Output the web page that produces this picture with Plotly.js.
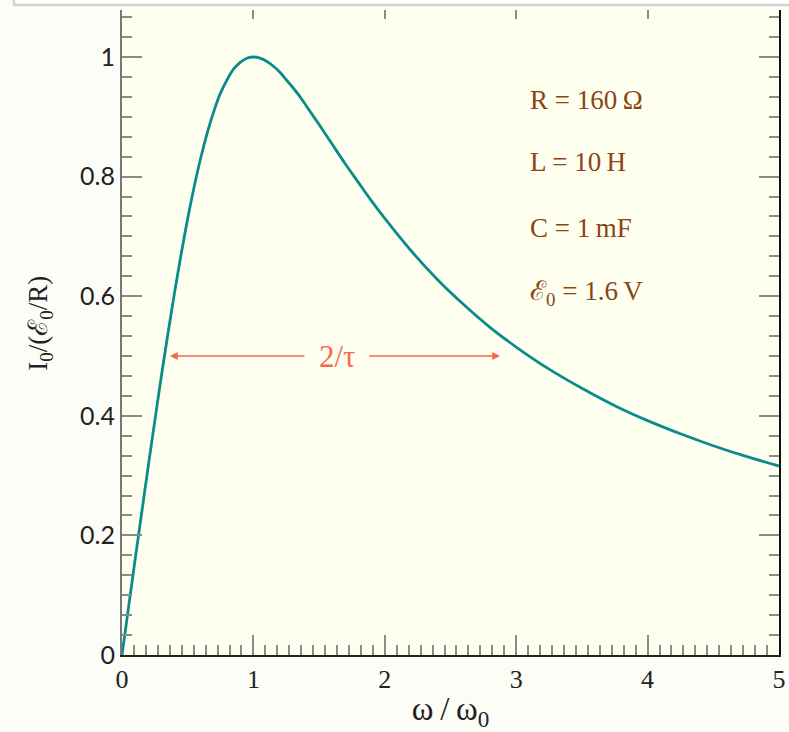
<!DOCTYPE html>
<html>
<head>
<meta charset="utf-8">
<script src="https://cdn.plot.ly/plotly-3.0.1.min.js"></script>
<style>
html,body{margin:0;padding:0;background:#fdfdf7;}
#chart{width:789px;height:732px;}
</style>
</head>
<body>
<div id="chart"></div>
<script>
// Frequency ratio omega/omega0 and normalised current amplitude
var omegaRatio = [0, 0.02, 0.05, 0.1, 0.15, 0.2, 0.25, 0.3, 0.35, 0.4, 0.45, 0.5, 0.55, 0.6, 0.65,
                  0.7, 0.75, 0.8, 0.85, 0.9, 0.95, 1.0, 1.05, 1.1, 1.15, 1.2, 1.25, 1.3, 1.35, 1.4,
                  1.5, 1.6, 1.7, 1.8, 1.9, 2.0, 2.2, 2.4, 2.6, 2.8, 3.0, 3.25, 3.5, 3.75,
                  4.0, 4.25, 4.5, 4.75, 5.0];
var currentRatio = [0, 0.032, 0.080, 0.160, 0.238, 0.316, 0.392, 0.467, 0.538, 0.606, 0.670, 0.730,
                    0.784, 0.832, 0.874, 0.910, 0.940, 0.962, 0.980, 0.991, 0.998, 1.000, 0.998,
                    0.993, 0.985, 0.975, 0.962, 0.949, 0.935, 0.919, 0.887, 0.854, 0.821, 0.790,
                    0.759, 0.730, 0.676, 0.628, 0.586, 0.548, 0.515, 0.478, 0.446, 0.417,
                    0.392, 0.370, 0.350, 0.332, 0.316];

// Width arrow labelled 2/tau
var arrowY = 0.5;
var arrowLeftEnd = 0.365, arrowLeftTail = 1.40;
var arrowRightEnd = 2.877, arrowRightTail = 1.87;
var arrowLabelX = 1.64;
var arrowLabel = "2/τ";

// Circuit parameters text
var paramLabels = ["R = 160\u2009Ω", "L = 10\u2009H", "C = 1\u2009mF", "ℰ<sub>0</sub> = 1.6\u2009V"];
var paramY = [0.928, 0.824, 0.714, 0.605];
var paramX = 3.09;

var xTicks = [0, 1, 2, 3, 4, 5];
var yTicks = [0, 0.2, 0.4, 0.6, 0.8, 1];
var xTitle = "ω\u2009/\u2009ω<sub>0</sub>";
var yTitle = "I<sub>0</sub>/(ℰ<sub>0</sub>/R)";

var serif = "Liberation Serif, DejaVu Serif, serif";
var brown = "#8b4513";
var arrowColor = "#f5694f";

var traces = [
  {x: omegaRatio, y: currentRatio, mode: "lines", type: "scatter",
   line: {color: "#0a8c8c", width: 2.8, shape: "spline", smoothing: 0.8},
   hoverinfo: "skip", showlegend: false},
  {x: [], y: [], xaxis: "x2", yaxis: "y2", type: "scatter", mode: "lines", showlegend: false}
];

var annotations = [];
paramLabels.forEach(function(t, i){
  annotations.push({x: paramX, y: paramY[i], xref: "x", yref: "y", text: t, showarrow: false,
    xanchor: "left", yanchor: "middle", font: {family: serif, size: 27, color: brown}});
});
annotations.push({x: arrowLeftEnd, y: arrowY, ax: arrowLeftTail, ay: arrowY, axref: "x", ayref: "y",
  xref: "x", yref: "y", text: "", showarrow: true, arrowhead: 2, arrowsize: 1.2, arrowwidth: 1.3, arrowcolor: arrowColor});
annotations.push({x: arrowRightEnd, y: arrowY, ax: arrowRightTail, ay: arrowY, axref: "x", ayref: "y",
  xref: "x", yref: "y", text: "", showarrow: true, arrowhead: 2, arrowsize: 1.2, arrowwidth: 1.3, arrowcolor: arrowColor});
annotations.push({x: arrowLabelX, y: arrowY, xref: "x", yref: "y", text: arrowLabel, showarrow: false,
  xanchor: "center", yanchor: "middle", font: {family: serif, size: 31, color: arrowColor}});
// y-axis title (placed as rotated annotation to match reference position)
annotations.push({x: -0.125, y: 0.515, xref: "paper", yref: "paper", text: yTitle, showarrow: false,
  textangle: -90, xanchor: "center", yanchor: "middle", font: {family: serif, size: 27, color: "#222"}});

var layout = {
  width: 789, height: 732,
  margin: {l: 122, r: 10, t: 10, b: 77},
  paper_bgcolor: "#fdfdf7",
  plot_bgcolor: "#fffff0",
  showlegend: false,
  xaxis: {
    range: [0, 5], tickvals: xTicks, ticktext: xTicks.map(String),
    ticks: "inside", ticklen: 20, tickwidth: 2, tickcolor: "#8a8a8a",
    minor: {dtick: 1/11, tick0: 0, ticks: "inside", ticklen: 10, tickwidth: 2, tickcolor: "#8a8a8a", showgrid: false},
    showline: true, linecolor: "#222", linewidth: 2, showgrid: false, zeroline: false,
    tickfont: {family: serif, size: 26, color: "#222"},
    title: {text: xTitle, font: {family: serif, size: 33, color: "#222"}, standoff: 4}
  },
  yaxis: {
    range: [0, 1.0786], tickvals: yTicks,
    ticks: "inside", ticklen: 20, tickwidth: 2, tickcolor: "#8a8a8a",
    minor: {dtick: 1/30, tick0: 0, ticks: "inside", ticklen: 10, tickwidth: 2, tickcolor: "#8a8a8a", showgrid: false},
    showline: true, linecolor: "#777", linewidth: 2, showgrid: false, zeroline: false,
    tickfont: {family: "Lato, Noto Sans, sans-serif", size: 25, color: "#222"}
  },
  xaxis2: {
    overlaying: "x", side: "top", anchor: "y", range: [0, 5], tickvals: [1, 2, 3, 4],
    ticks: "inside", ticklen: 9, tickwidth: 2, tickcolor: "#8a8a8a",
    showline: false, showgrid: false, zeroline: false, showticklabels: false
  },
  yaxis2: {
    overlaying: "y", side: "right", anchor: "x", range: [0, 1.0786], tickvals: yTicks,
    ticks: "inside", ticklen: 20, tickwidth: 2, tickcolor: "#8a8a8a",
    minor: {dtick: 1/30, tick0: 0, ticks: "inside", ticklen: 10, tickwidth: 2, tickcolor: "#8a8a8a", showgrid: false},
    showline: true, linecolor: "#111", linewidth: 2, showgrid: false, zeroline: false, showticklabels: false
  },
  shapes: [
    {type: "rect", xref: "paper", yref: "paper", x0: -0.1644, x1: 1.1, y0: 1.0078, y1: 1.3,
     line: {color: "#d3d3cc", width: 2.5}, fillcolor: "#ffffff", layer: "below"}
  ],
  annotations: annotations
};

Plotly.newPlot("chart", traces, layout, {displayModeBar: false, staticPlot: true});
</script>
</body>
</html>
